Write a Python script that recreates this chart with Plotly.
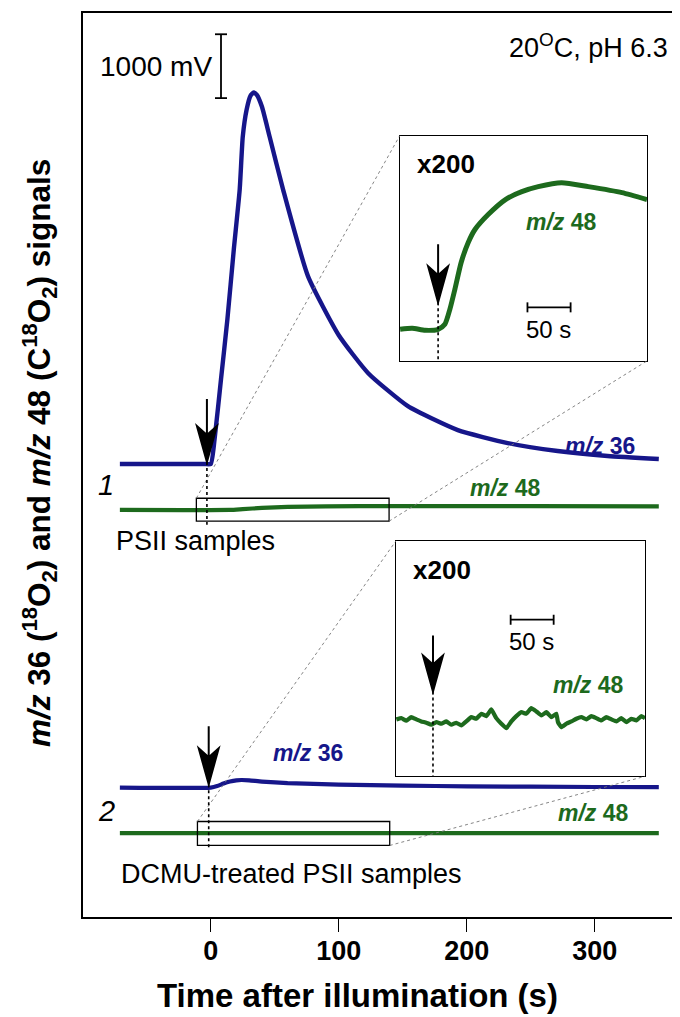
import plotly.graph_objects as go

# ---------------- data ----------------
# Panel 1: PSII samples, m/z 36 signal relative to its baseline (mV)
t_mz36_psii = [-71, -5, 0, 3, 8, 13, 18, 22.6, 25, 28, 31, 33.6, 36, 40, 46, 56.5,
               76, 100, 123, 154, 193, 232, 271, 310, 350]
mz36_psii = [0, 0, 0, 391, 1328, 2266, 3359, 4297, 5125, 5547, 5766, 5820, 5781, 5594,
             5125, 4297, 2938, 2016, 1422, 906, 531, 328, 203, 125, 78]
# Panel 1: PSII samples, m/z 48 signal (mV)
t_mz48_psii = [-71, 15, 25, 40, 60, 90, 140, 250, 350]
mz48_psii = [0, 0, 12, 31, 47, 56, 59, 58, 56]
# Panel 2: DCMU-treated, m/z 36 (mV)
t_mz36_dcmu = [-71, 0, 5, 10, 15, 20, 24, 30, 40, 60, 100, 150, 200, 300, 350]
mz36_dcmu = [0, 0, 23, 63, 94, 114, 119, 113, 94, 70, 47, 31, 20, 9, 6]
# Panel 2: DCMU-treated, m/z 48 (mV)
t_mz48_dcmu = [-71, 350]
mz48_dcmu = [0, 0]

# Inset 1 (x200), m/z 48 of PSII samples (a.u.)
t_inset1 = [-44, -30, -15, 0, 7.8, 13.6, 19.4, 26.7, 34.9, 42.7, 58, 78, 97, 116,
            143, 174, 213, 242]
inset1_mz48 = [0, 1, -1, 0, 5, 20, 40, 67, 87, 100, 115, 130, 138, 143, 147, 143, 137, 130]

# Inset 2 (x200), m/z 48 of DCMU-treated samples (a.u.)
t_inset2 = [-42.6, -36.8, -31.0, -25.2, -19.4, -13.6, -7.8, -2.0, 3.9, 9.7, 15.5, 21.3,
            27.1, 32.9, 38.7, 44.6, 50.4, 56.2, 62.0, 67.8, 73.6, 79.5, 85.3, 91.1,
            96.9, 102.7, 108.5, 114.3, 120.2, 126.0, 131.8, 137.6, 143.4, 145.3, 149.2,
            155.0, 160.9, 166.7, 172.5, 178.3, 184.1, 189.9, 195.7, 201.6, 207.4,
            213.2, 219.0, 224.8, 230.6, 236.4, 242.3, 246.5]
inset2_mz48 = [1.0, 2.3, -0.3, 3.3, 1.0, -1.0, -2.3, -4.3, -1.7, -3.3, -1.0, -4.3,
               -2.3, -5.0, -1.0, 3.3, 1.7, 6.7, 4.3, 11.0, 2.3, -3.3, -7.7, -1.0,
               4.3, 8.3, 6.7, 12.3, 9.0, 5.0, 8.3, 3.3, 6.7, -1.7, -6.7,
               -3.3, -1.0, 1.7, 3.3, 1.0, 4.3, 2.3, 0.0, 3.3, 1.0,
               -1.0, 2.3, -1.7, 1.7, 0.0, 4.3, 2.3]

x_ticks = [0, 100, 200, 300]
scale_mv = 1000      # vertical scale bar
scale_s = 50         # inset time scale bar
t_light = 0          # illumination time

# ---------------- layout geometry ----------------
W, H = 680, 1017
L, R, T, B = 75, 675, 3, 909
X0, X1 = -99.8, 368.9
PX_PER_MV = 0.064
YMAX = (B - T) / PX_PER_MV

def xd(px):   # main-axis data x from pixel
    return X0 + (px - L) / (R - L) * (X1 - X0)

def yd(py):   # main-axis data y (mV) from pixel
    return (B - py) / PX_PER_MV

def pxp(px):  # paper x
    return (px - L) / (R - L)

def pyp(py):  # paper y
    return (B - py) / (B - T)

# baselines (positions, mV on main axis)
base_36_psii = yd(455)
base_48_psii = yd(501)
base_36_dcmu = yd(779.3)
base_48_dcmu = yd(825)

BLUE = "#16168a"
GREEN = "#1d6a1d"
FONT = "Liberation Sans, Arial, sans-serif"

fig = go.Figure()

def add_line(x, y, off, color, width, xa="x", ya="y"):
    fig.add_trace(go.Scatter(x=x, y=[v + off for v in y], mode="lines",
                             line=dict(color=color, width=width, shape="spline", smoothing=0.5),
                             xaxis=xa, yaxis=ya, hoverinfo="skip", showlegend=False))

add_line(t_mz36_psii, mz36_psii, base_36_psii, BLUE, 4.4)
add_line(t_mz48_psii, mz48_psii, base_48_psii, GREEN, 4.2)
add_line(t_mz36_dcmu, mz36_dcmu, base_36_dcmu, BLUE, 4.2)
add_line(t_mz48_dcmu, mz48_dcmu, base_48_dcmu, GREEN, 4.2)

fig.add_trace(go.Scatter(x=t_inset1, y=inset1_mz48, mode="lines",
                         line=dict(color=GREEN, width=5, shape="spline", smoothing=0.6),
                         xaxis="x2", yaxis="y2", hoverinfo="skip", showlegend=False))
fig.add_trace(go.Scatter(x=t_inset2, y=inset2_mz48, mode="lines",
                         line=dict(color=GREEN, width=4.2, shape="spline", smoothing=0.3),
                         xaxis="x3", yaxis="y3", hoverinfo="skip", showlegend=False))

# inset geometry (pixels)
in1 = dict(l=391.7, r=639, t=126, b=351.7, x0=-44.5, x1=242, base=320)
in2 = dict(l=388, r=637, t=532, b=768, x0=-43, x1=246.5, base=712)

axis_common = dict(showline=True, mirror=True, linecolor="black", showgrid=False,
                   zeroline=False, showticklabels=False, ticks="")

fig.update_layout(
    width=W, height=H,
    margin=dict(l=L, r=W - R, t=T, b=H - B),
    paper_bgcolor="white", plot_bgcolor="white",
    xaxis=dict(range=[X0, X1], domain=[0, 1], showline=True, mirror=True,
               linecolor="black", linewidth=1.6, showgrid=False, zeroline=False,
               ticks="outside", ticklen=13, tickwidth=1.4, tickcolor="black",
               tickvals=x_ticks, ticktext=[f"<b>{v}</b>" for v in x_ticks],
               tickfont=dict(family=FONT, size=27, color="black"),
               ticklabelstandoff=-4),
    yaxis=dict(range=[0, YMAX], domain=[0, 1], showline=True, mirror=True,
               linecolor="black", linewidth=1.6, showgrid=False, zeroline=False,
               showticklabels=False, ticks=""),
    xaxis2=dict(anchor="y2", domain=[pxp(in1["l"]), pxp(in1["r"])],
                range=[in1["x0"], in1["x1"]], linewidth=1.2, **axis_common),
    yaxis2=dict(anchor="x2", domain=[pyp(in1["b"]), pyp(in1["t"])],
                range=[in1["base"] - in1["b"], in1["base"] - in1["t"]], linewidth=1.2, **axis_common),
    xaxis3=dict(anchor="y3", domain=[pxp(in2["l"]), pxp(in2["r"])],
                range=[in2["x0"], in2["x1"]], linewidth=1.2, **axis_common),
    yaxis3=dict(anchor="x3", domain=[pyp(in2["b"]), pyp(in2["t"])],
                range=[in2["base"] - in2["b"], in2["base"] - in2["t"]], linewidth=1.2, **axis_common),
)

shapes = []
# zoom rectangles on the main traces
rect1 = dict(x0=-11.25, x1=139.3, y0=yd(512.3), y1=yd(489.3))
rect2 = dict(x0=-10.4, x1=139.8, y0=yd(837.3), y1=yd(813.3))
for rc in (rect1, rect2):
    shapes.append(dict(type="rect", xref="x", yref="y", line=dict(color="black", width=1.3),
                       fillcolor="rgba(0,0,0,0)", **rc))
# dotted connector lines
dot = dict(color="#777777", width=0.9, dash="dot")
shapes += [
    dict(type="line", xref="x", yref="y", x0=rect1["x0"], y0=rect1["y1"],
         x1=xd(in1["l"]), y1=yd(in1["t"]), line=dot),
    dict(type="line", xref="x", yref="y", x0=rect1["x1"], y0=rect1["y0"],
         x1=xd(in1["r"]), y1=yd(in1["b"]), line=dot),
    dict(type="line", xref="x", yref="y", x0=rect2["x0"], y0=rect2["y1"],
         x1=xd(in2["l"]), y1=yd(in2["t"]), line=dot),
    dict(type="line", xref="x", yref="y", x0=rect2["x1"], y0=rect2["y0"],
         x1=xd(in2["r"]), y1=yd(in2["b"]), line=dot),
]

def arrow(xref, yref, x, tip, length):
    path = (f"M0,0 L-10,36 L0,27 L10,36 Z M0,27 L0,{length}")
    return dict(type="path", xref=xref, yref=yref, xsizemode="pixel", ysizemode="pixel",
                xanchor=x, yanchor=tip, path=path, fillcolor="black",
                line=dict(color="black", width=2))

dash = dict(color="black", width=1.6, dash="3px,3px")
ev1 = t_light - 3.0
ev2 = t_light - 1.6
# main panel arrows and dashed markers
shapes.append(arrow("x", "y", ev1, yd(453), 63))
shapes.append(dict(type="line", xref="x", yref="y", x0=ev1, x1=ev1, y0=yd(453), y1=yd(516), line=dash))
shapes.append(arrow("x", "y", ev2, yd(776), 58))
shapes.append(dict(type="line", xref="x", yref="y", x0=ev2, x1=ev2, y0=yd(776), y1=yd(842), line=dash))
# inset arrows
shapes.append(arrow("x2", "y2", t_light, 27, 58))
shapes.append(dict(type="line", xref="x2", yref="y2", x0=t_light, x1=t_light, y0=27,
                   y1=in1["base"] - in1["b"], line=dash))
shapes.append(arrow("x3", "y3", t_light, 29, 56))
shapes.append(dict(type="line", xref="x3", yref="y3", x0=t_light, x1=t_light, y0=29,
                   y1=in2["base"] - in2["b"], line=dash))

bar = dict(color="black", width=1.8)
# 1000 mV scale bar
sb_x = xd(213)
sb_y0 = yd(88.3)
cap = 6 / 1.28
shapes += [
    dict(type="line", xref="x", yref="y", x0=sb_x, x1=sb_x, y0=sb_y0, y1=sb_y0 + scale_mv, line=bar),
    dict(type="line", xref="x", yref="y", x0=sb_x - cap, x1=sb_x + cap, y0=sb_y0, y1=sb_y0, line=bar),
    dict(type="line", xref="x", yref="y", x0=sb_x - cap, x1=sb_x + cap,
         y0=sb_y0 + scale_mv, y1=sb_y0 + scale_mv, line=bar),
]
# 50 s scale bars in insets
for xa, ya, xs, ys in (("x2", "y2", 103.5, 22), ("x3", "y3", 90.3, 101)):
    shapes += [
        dict(type="line", xref=xa, yref=ya, x0=xs, x1=xs + scale_s, y0=ys, y1=ys, line=bar),
        dict(type="line", xref=xa, yref=ya, x0=xs, x1=xs, y0=ys - 5, y1=ys + 5, line=bar),
        dict(type="line", xref=xa, yref=ya, x0=xs + scale_s, x1=xs + scale_s, y0=ys - 5, y1=ys + 5, line=bar),
    ]
fig.update_layout(shapes=shapes)

anns = []
def txt(text, px, py, size, color="black", xanchor="center", angle=0):
    anns.append(dict(text=text, x=pxp(px), y=pyp(py), xref="paper", yref="paper",
                     xanchor=xanchor, yanchor="middle", showarrow=False, textangle=angle,
                     font=dict(family=FONT, size=size, color=color)))

txt("20<sup>O</sup>C, pH 6.3", 662, 36, 27, xanchor="right")
txt("1000 mV", 206, 57, 28, xanchor="right")
txt("<b><i>m/z</i> 36</b>", 592, 437, 23, BLUE)
txt("<b><i>m/z</i> 48</b>", 497, 479, 23, GREEN)
txt("<i>1</i>", 98, 476, 29)
txt("PSII samples", 106, 532, 27, xanchor="left")
txt("<b><i>m/z</i> 36</b>", 300, 745, 23, BLUE)
txt("<b><i>m/z</i> 48</b>", 585, 805, 23, GREEN)
txt("<i>2</i>", 98, 803, 29)
txt("DCMU-treated PSII samples", 111, 866, 27, xanchor="left")
txt("<b>x200</b>", 438, 154, 26)
txt("<b><i>m/z</i> 48</b>", 553, 212, 23, GREEN)
txt("50 s", 540, 320, 24)
txt("<b>x200</b>", 434, 561, 26)
txt("50 s", 523, 633, 24)
txt("<b><i>m/z</i> 48</b>", 580, 676, 23, GREEN)
txt("<b>Time after illumination (s)</b>", 349, 988, 33)
txt("<b><i>m/z</i> 36 (<sup>18</sup>O<sub>2</sub>) and <i>m/z</i> 48 (C<sup>18</sup>O<sub>2</sub>) signals</b>",
    31, 444, 31.5, angle=-90)
fig.update_layout(annotations=anns)

fig.write_html("out.html")
